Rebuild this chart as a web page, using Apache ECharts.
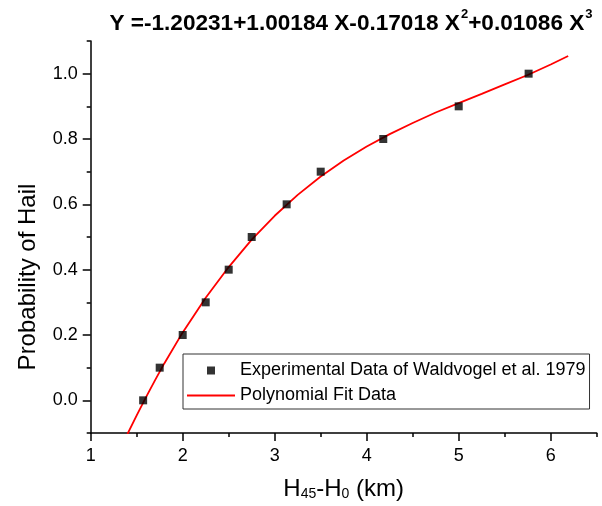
<!DOCTYPE html>
<html>
<head>
<meta charset="utf-8">
<script src="https://cdn.jsdelivr.net/npm/echarts@6/dist/echarts.min.js"></script>
<style>html,body{margin:0;padding:0;background:#fff;}#c{width:602px;height:506px;}</style>
</head>
<body>
<div id="c"></div>
<script>
// Experimental data (Waldvogel et al. 1979)
const expX = [1.57, 1.75, 2.0, 2.25, 2.5, 2.75, 3.13, 3.5, 4.18, 5.0, 5.76];
const expY = [0.0, 0.1, 0.2, 0.3, 0.4, 0.5, 0.6, 0.7, 0.8, 0.9, 1.0];
// Polynomial fit curve
const fitX = [1.4, 1.5, 1.6, 1.7, 1.8, 2.0, 2.25, 2.5, 2.75, 3.0, 3.25, 3.5, 3.75, 4.0, 4.25, 4.5, 4.75, 5.0, 5.25, 5.5, 5.75, 6.0, 6.19];
const fitY = [-0.103, -0.046, 0.009, 0.062, 0.113, 0.208, 0.314, 0.408, 0.492, 0.565, 0.629, 0.685, 0.734, 0.777, 0.815, 0.849, 0.881, 0.910, 0.938, 0.967, 0.996, 1.028, 1.054];
// Ticks
const xMajor = [1, 2, 3, 4, 5, 6];
const xMinor = [1.5, 2.5, 3.5, 4.5, 5.5, 6.5];
const yMajor = [0.0, 0.2, 0.4, 0.6, 0.8, 1.0];
const yMinor = [-0.1, 0.1, 0.3, 0.5, 0.7, 0.9, 1.1];

const FONT = 'Liberation Sans';
const chart = echarts.init(document.getElementById('c'));
const axisCommon = {
  type: 'value',
  splitLine: { show: false },
  axisLine: { show: true, onZero: false, lineStyle: { color: '#000', width: 1.5 } }
};
chart.setOption({
  animation: false,
  backgroundColor: '#fff',
  textStyle: { fontFamily: FONT },
  title: {
    text: '{b|Y =-1.20231+1.00184 X-0.17018 X}{sup|2}{b|+0.01086 X}{sup|3}',
    left: 346, top: 2, textAlign: 'center',
    textStyle: {
      rich: {
        b: { fontFamily: FONT, fontWeight: 'bold', fontSize: 22.6, color: '#000', lineHeight: 28, verticalAlign: 'bottom' },
        sup: { fontFamily: FONT, fontWeight: 'bold', fontSize: 13, color: '#000', lineHeight: 28, verticalAlign: 'top', padding: [1, 0, 0, 1] }
      }
    }
  },
  grid: { left: 90.7, right: 5.3, top: 41, bottom: 72.3, containLabel: false },
  xAxis: [
    Object.assign({}, axisCommon, {
      min: 1, max: 6.5, position: 'bottom',
      name: '{n|H}{s|45}{n|-H}{s|0}{n| (km)}',
      nameLocation: 'middle', nameGap: 38,
      nameTextStyle: {
        rich: {
          n: { fontFamily: FONT, fontSize: 24, color: '#000', verticalAlign: 'bottom', lineHeight: 30 },
          s: { fontFamily: FONT, fontSize: 14, color: '#000', verticalAlign: 'bottom', lineHeight: 20 }
        }
      },
      axisTick: { show: true, inside: false, length: 8, customValues: xMajor, lineStyle: { color: '#000', width: 1.5 } },
      axisLabel: { show: true, customValues: xMajor, margin: 14, fontSize: 18, color: '#000', fontFamily: FONT }
    }),
    Object.assign({}, axisCommon, {
      min: 1, max: 6.5, position: 'bottom',
      axisLine: { show: false, onZero: false },
      axisTick: { show: true, inside: false, length: 4, customValues: xMinor, lineStyle: { color: '#000', width: 1.5 } },
      axisLabel: { show: false }
    })
  ],
  yAxis: [
    Object.assign({}, axisCommon, {
      min: -0.1, max: 1.1, position: 'left',
      name: 'Probability of Hail', nameLocation: 'middle', nameGap: 50,
      nameTextStyle: { fontFamily: FONT, fontSize: 24, color: '#000', padding: [0, 80, 0, 0] },
      axisTick: { show: true, inside: false, length: 8, customValues: yMajor, lineStyle: { color: '#000', width: 1.5 } },
      axisLabel: { show: true, customValues: yMajor, margin: 13, fontSize: 18, color: '#000', fontFamily: FONT,
        formatter: v => v.toFixed(1) }
    }),
    Object.assign({}, axisCommon, {
      min: -0.1, max: 1.1, position: 'left',
      axisLine: { show: false, onZero: false },
      axisTick: { show: true, inside: false, length: 4, customValues: yMinor, lineStyle: { color: '#000', width: 1.5 } },
      axisLabel: { show: false }
    })
  ],
  legend: {
    orient: 'vertical', left: 183, top: 354,
    padding: [4, 4, 1, 4],
    itemGap: 0, itemWidth: 48, itemHeight: 8,
    symbolKeepAspect: true,
    borderColor: '#333', borderWidth: 1, backgroundColor: '#fff',
    textStyle: { fontFamily: FONT, fontSize: 18, color: '#000', lineHeight: 25 },
    data: [
      { name: 'Experimental Data of Waldvogel et al. 1979', icon: 'path://M0,0h10v10h-10z' },
      { name: 'Polynomial Fit Data', icon: 'path://M0,0h96v4h-96z' }
    ]
  },
  series: [
    {
      name: 'Polynomial Fit Data', type: 'line', xAxisIndex: 0, yAxisIndex: 0,
      data: fitX.map((x, i) => [x, fitY[i]]),
      showSymbol: false, symbol: 'none', smooth: false, clip: true,
      lineStyle: { color: '#ff0000', width: 1.8 }, itemStyle: { color: '#ff0000' }, z: 2
    },
    {
      name: 'Experimental Data of Waldvogel et al. 1979', type: 'scatter', xAxisIndex: 0, yAxisIndex: 0,
      data: expX.map((x, i) => [x, expY[i]]),
      symbol: 'rect', symbolSize: 8,
      itemStyle: { color: '#000' }, z: 3
    }
  ]
});
</script>
</body>
</html>
